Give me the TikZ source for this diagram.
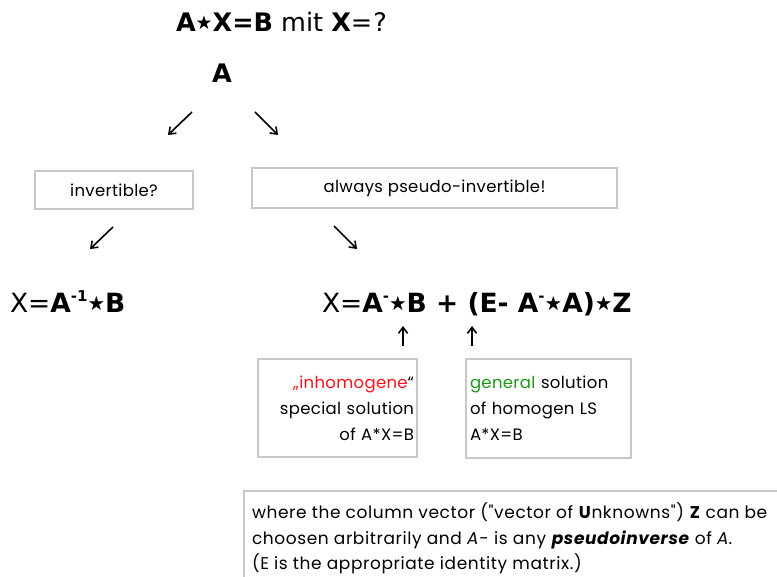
\documentclass[tikz,border=0pt]{standalone}
\usepackage{fontspec}
\setmainfont{DejaVu Sans}
\newfontfamily\boxfont[LetterSpace=2]{Poppins}
\newfontfamily\notefont[LetterSpace=3.5]{Poppins}
\usetikzlibrary{arrows.meta}
\definecolor{boxgray}{RGB}{200,200,200}
\definecolor{myred}{RGB}{250,20,30}
\definecolor{mygreen}{RGB}{30,150,30}
\newcommand{\stx}{\raisebox{0.1em}{\scalebox{0.74}{★}}}
\newcommand{\supm}[1]{\raisebox{0.42em}{\fontsize{15}{15}\selectfont\bfseries #1}}
\begin{document}
\begin{tikzpicture}[x=1pt,y=-1pt,
  every node/.style={inner sep=0pt, outer sep=0pt},
  frame/.style={draw=boxgray, line width=1.5pt, fill=white},
  btext/.style={font=\boxfont\fontsize{16.5}{26}\selectfont},
  arr/.style={line width=1.6pt, -{Straight Barb[length=6pt,width=9pt,line width=1.6pt]}},
  big/.style={font=\fontsize{25.5}{26}\selectfont, anchor=base west},
  form/.style={font=\fontsize{26.5}{30}\selectfont, anchor=base west}]
\useasboundingbox (0,0) rectangle (777,577);
\clip (0,0) rectangle (777,577);
\fill[white] (0,0) rectangle (777,577);

% title and A
\node[big] (title) at (176,32) {\textbf{A\stx X=B} mit \textbf{X}=\hspace{1pt}?};
\node[big] (A) at (212,83) {\textbf{A}};

% top arrows
\coordinate (a1s) at (192,112); \coordinate (a1e) at (168,135);
\coordinate (a2s) at (255,112); \coordinate (a2e) at (278,135);
\draw[arr] (a1s) -- (a1e);
\draw[arr] (a2s) -- (a2e);

% boxes
\node[frame, btext, minimum width=158, minimum height=38, anchor=north west] (inv) at (35,171) {invertible?};
\node[frame, btext, minimum width=365, minimum height=40, anchor=north west] (pinv) at (252,168) {always pseudo-invertible!};

% second arrows
\coordinate (b1s) at (113,227); \coordinate (b1e) at (90,249);
\coordinate (b2s) at (334,226); \coordinate (b2e) at (357,249);
\draw[arr] (b1s) -- (b1e);
\draw[arr] (b2s) -- (b2e);

% formulas
\node[form] (f1) at (10,313) {X=\textbf{A}\supm{-1}\stx\textbf{B}};
\node[form] (f2) at (322,313) {X=\textbf{A}\supm{-}\stx\textbf{B + (E- A}\supm{-}\stx\textbf{A)}\stx\textbf{Z}};

% up arrows
\coordinate (u1s) at (403,346); \coordinate (u1e) at (403,326);
\coordinate (u2s) at (472,346); \coordinate (u2e) at (472,326);
\draw[arr] (u1s) -- (u1e);
\draw[arr] (u2s) -- (u2e);

% solution boxes
\node[frame, btext, minimum width=159, minimum height=98, text width=153, align=right, anchor=north west] (inh) at (258,359)
  {\textcolor{myred}{„inhomogene}“\\special solution\\of A*X=B};
\node[frame, btext, minimum width=165, minimum height=99, text width=157, align=left, anchor=north west] (gen) at (466,359)
  {\textcolor{mygreen}{general} solution\\of homogen LS\\A*X=B};

% bottom note
\node[frame, minimum width=560, minimum height=110, anchor=north west] (note) at (244,491) {};
\node[anchor=north west, align=left, font=\notefont\fontsize{17}{25.5}\selectfont] (notetext) at (252,503)
  {where the column vector ("vector of \textbf{U}nknowns") \textbf{Z} can be\\
   choosen arbitrarily and \textit{A-} is any \textbf{\textit{pseudoinverse}} of \textit{A}.\\
   (E is the appropriate identity matrix.)};
\end{tikzpicture}
\end{document}
